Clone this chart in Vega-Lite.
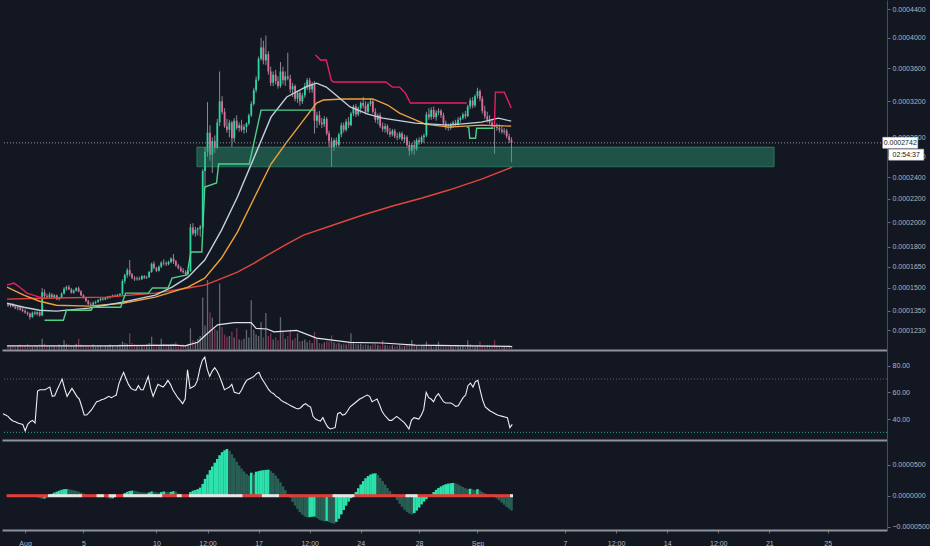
{
"$schema":"https://vega.github.io/schema/vega-lite/v6.json",
"background":"#131722",
"padding":0,
"spacing":0,
"config":{"view":{"stroke":null},"font":"Liberation Sans","axis":{"labelFont":"Liberation Sans","labelFontSize":7,"labelColor":"#b2b5be","tickColor":"#6a6d78","grid":false,"labelOverlap":false}},
"resolve":{"scale":{"color":"independent","strokeWidth":"independent","x":"independent","y":"independent"}},
"datasets":{
"bars":[
{"t":-1.17,"o":1390,"h":1400,"l":1375,"c":1382,"v":6,"r":44,"m":8,"g":"b","s":0},
{"t":-1,"o":1382,"h":1395,"l":1370,"c":1388,"v":5,"r":43,"m":6,"g":"b","s":0},
{"t":-0.83,"o":1388,"h":1398,"l":1372,"c":1376,"v":7,"r":42,"m":3,"g":"b","s":0},
{"t":-0.67,"o":1376,"h":1385,"l":1360,"c":1365,"v":5,"r":40,"m":-2,"g":"b","s":0},
{"t":-0.5,"o":1365,"h":1378,"l":1352,"c":1370,"v":6,"r":38.5,"m":-5,"g":"b","s":0},
{"t":-0.33,"o":1370,"h":1380,"l":1350,"c":1356,"v":8,"r":38,"m":-8,"g":"b","s":0},
{"t":-0.17,"o":1356,"h":1368,"l":1340,"c":1348,"v":6,"r":37,"m":-10,"g":"b","s":0},
{"t":0,"o":1348,"h":1360,"l":1330,"c":1338,"v":7,"r":36.5,"m":-12,"g":"b","s":0},
{"t":0.17,"o":1338,"h":1345,"l":1318,"c":1330,"v":9,"r":36,"m":-16,"g":"b","s":0},
{"t":0.33,"o":1330,"h":1338,"l":1295,"c":1310,"v":6,"r":31,"m":-20,"g":"b","s":0},
{"t":0.5,"o":1310,"h":1345,"l":1305,"c":1338,"v":5,"r":36,"m":-18,"g":"a","s":0},
{"t":0.67,"o":1338,"h":1348,"l":1322,"c":1330,"v":7,"r":38,"m":-20,"g":"b","s":0},
{"t":0.83,"o":1330,"h":1345,"l":1318,"c":1340,"v":6,"r":39,"m":-25,"g":"b","s":0},
{"t":1,"o":1340,"h":1345,"l":1312,"c":1320,"v":8,"r":37,"m":-38,"g":"b","s":0},
{"t":1.17,"o":1320,"h":1500,"l":1315,"c":1470,"v":16,"r":61,"m":-50,"g":"b","s":0},
{"t":1.33,"o":1470,"h":1490,"l":1430,"c":1445,"v":9,"r":62,"m":-45,"g":"a","s":0},
{"t":1.5,"o":1445,"h":1460,"l":1425,"c":1440,"v":7,"r":62,"m":-25,"g":"a","s":0},
{"t":1.67,"o":1440,"h":1470,"l":1430,"c":1455,"v":6,"r":62,"m":10,"g":"a","s":1},
{"t":1.83,"o":1455,"h":1465,"l":1430,"c":1438,"v":7,"r":63,"m":30,"g":"a","s":1},
{"t":2,"o":1438,"h":1458,"l":1430,"c":1450,"v":6,"r":64,"m":50,"g":"a","s":1},
{"t":2.17,"o":1450,"h":1455,"l":1418,"c":1425,"v":5,"r":57,"m":65,"g":"a","s":1},
{"t":2.33,"o":1425,"h":1440,"l":1415,"c":1432,"v":8,"r":57.5,"m":80,"g":"a","s":1},
{"t":2.5,"o":1432,"h":1470,"l":1428,"c":1462,"v":7,"r":62,"m":95,"g":"a","s":1},
{"t":2.67,"o":1462,"h":1505,"l":1455,"c":1495,"v":14,"r":66,"m":105,"g":"a","s":1},
{"t":2.83,"o":1495,"h":1515,"l":1480,"c":1505,"v":9,"r":70,"m":108,"g":"a","s":1},
{"t":3,"o":1505,"h":1520,"l":1485,"c":1490,"v":8,"r":63,"m":104,"g":"b","s":1},
{"t":3.17,"o":1490,"h":1500,"l":1462,"c":1468,"v":7,"r":57,"m":96,"g":"b","s":1},
{"t":3.33,"o":1468,"h":1490,"l":1460,"c":1482,"v":6,"r":60,"m":88,"g":"b","s":1},
{"t":3.5,"o":1482,"h":1505,"l":1475,"c":1498,"v":9,"r":63,"m":78,"g":"b","s":1},
{"t":3.67,"o":1498,"h":1510,"l":1470,"c":1475,"v":16,"r":60,"m":65,"g":"b","s":1},
{"t":3.83,"o":1475,"h":1485,"l":1445,"c":1450,"v":8,"r":57,"m":50,"g":"b","s":1},
{"t":4,"o":1450,"h":1458,"l":1428,"c":1432,"v":7,"r":55,"m":35,"g":"b","s":0},
{"t":4.17,"o":1432,"h":1440,"l":1405,"c":1412,"v":6,"r":49,"m":22,"g":"b","s":0},
{"t":4.33,"o":1412,"h":1420,"l":1385,"c":1392,"v":5,"r":43,"m":12,"g":"b","s":0},
{"t":4.5,"o":1392,"h":1405,"l":1378,"c":1388,"v":6,"r":43,"m":6,"g":"b","s":0},
{"t":4.67,"o":1388,"h":1410,"l":1382,"c":1400,"v":8,"r":45,"m":2,"g":"b","s":0},
{"t":4.83,"o":1400,"h":1415,"l":1392,"c":1406,"v":5,"r":47,"m":-3,"g":"b","s":0},
{"t":5,"o":1406,"h":1425,"l":1400,"c":1418,"v":6,"r":50,"m":8,"g":"a","s":1},
{"t":5.17,"o":1418,"h":1432,"l":1410,"c":1428,"v":7,"r":53,"m":12,"g":"a","s":1},
{"t":5.33,"o":1428,"h":1436,"l":1415,"c":1422,"v":5,"r":53.5,"m":6,"g":"b","s":1},
{"t":5.5,"o":1422,"h":1440,"l":1418,"c":1432,"v":6,"r":54.5,"m":-10,"g":"b","s":0},
{"t":5.67,"o":1432,"h":1445,"l":1424,"c":1438,"v":7,"r":55,"m":-38,"g":"b","s":0},
{"t":5.83,"o":1438,"h":1448,"l":1428,"c":1442,"v":8,"r":56,"m":-50,"g":"b","s":1},
{"t":6,"o":1442,"h":1455,"l":1436,"c":1448,"v":6,"r":57,"m":-42,"g":"a","s":1},
{"t":6.17,"o":1448,"h":1456,"l":1438,"c":1444,"v":5,"r":56,"m":-15,"g":"a","s":1},
{"t":6.33,"o":1444,"h":1460,"l":1440,"c":1452,"v":7,"r":57,"m":5,"g":"a","s":0},
{"t":6.5,"o":1452,"h":1465,"l":1445,"c":1458,"v":8,"r":58,"m":10,"g":"a","s":0},
{"t":6.67,"o":1458,"h":1560,"l":1452,"c":1548,"v":12,"r":66,"m":22,"g":"a","s":0},
{"t":6.83,"o":1548,"h":1600,"l":1530,"c":1590,"v":10,"r":71,"m":42,"g":"a","s":1},
{"t":7,"o":1590,"h":1640,"l":1570,"c":1625,"v":9,"r":75,"m":62,"g":"a","s":1},
{"t":7.17,"o":1625,"h":1700,"l":1580,"c":1595,"v":24,"r":70,"m":76,"g":"a","s":1},
{"t":7.33,"o":1595,"h":1605,"l":1560,"c":1570,"v":10,"r":66,"m":82,"g":"a","s":1},
{"t":7.5,"o":1570,"h":1582,"l":1548,"c":1560,"v":8,"r":63,"m":78,"g":"b","s":1},
{"t":7.67,"o":1560,"h":1580,"l":1550,"c":1565,"v":7,"r":62,"m":70,"g":"b","s":1},
{"t":7.83,"o":1565,"h":1578,"l":1552,"c":1560,"v":6,"r":61.5,"m":60,"g":"b","s":1},
{"t":8,"o":1560,"h":1590,"l":1555,"c":1582,"v":7,"r":65,"m":55,"g":"b","s":1},
{"t":8.17,"o":1582,"h":1590,"l":1562,"c":1570,"v":6,"r":62,"m":50,"g":"b","s":1},
{"t":8.33,"o":1570,"h":1585,"l":1562,"c":1575,"v":8,"r":62,"m":48,"g":"b","s":1},
{"t":8.5,"o":1575,"h":1620,"l":1570,"c":1612,"v":10,"r":67,"m":52,"g":"a","s":1},
{"t":8.67,"o":1612,"h":1680,"l":1605,"c":1672,"v":19,"r":72,"m":68,"g":"a","s":1},
{"t":8.83,"o":1672,"h":1690,"l":1630,"c":1640,"v":9,"r":63,"m":64,"g":"b","s":1},
{"t":9,"o":1640,"h":1650,"l":1610,"c":1620,"v":8,"r":57,"m":55,"g":"b","s":1},
{"t":9.17,"o":1620,"h":1660,"l":1615,"c":1650,"v":7,"r":62,"m":50,"g":"b","s":1},
{"t":9.33,"o":1650,"h":1690,"l":1640,"c":1680,"v":16,"r":66,"m":58,"g":"a","s":1},
{"t":9.5,"o":1680,"h":1705,"l":1660,"c":1675,"v":9,"r":65,"m":68,"g":"a","s":0},
{"t":9.67,"o":1675,"h":1690,"l":1655,"c":1668,"v":8,"r":64,"m":62,"g":"b","s":0},
{"t":9.83,"o":1668,"h":1695,"l":1660,"c":1685,"v":7,"r":66,"m":56,"g":"b","s":0},
{"t":10,"o":1685,"h":1720,"l":1675,"c":1710,"v":8,"r":69,"m":62,"g":"a","s":0},
{"t":10.17,"o":1710,"h":1745,"l":1670,"c":1690,"v":9,"r":66,"m":72,"g":"a","s":0},
{"t":10.33,"o":1690,"h":1700,"l":1650,"c":1660,"v":11,"r":62,"m":66,"g":"b","s":0},
{"t":10.5,"o":1660,"h":1672,"l":1630,"c":1640,"v":7,"r":59,"m":35,"g":"b","s":1},
{"t":10.67,"o":1640,"h":1655,"l":1610,"c":1620,"v":6,"r":56,"m":15,"g":"b","s":1},
{"t":10.83,"o":1620,"h":1640,"l":1600,"c":1610,"v":8,"r":54,"m":5,"g":"b","s":0},
{"t":11,"o":1610,"h":1625,"l":1590,"c":1598,"v":7,"r":51.5,"m":0,"g":"b","s":0},
{"t":11.17,"o":1598,"h":1625,"l":1592,"c":1618,"v":9,"r":55,"m":8,"g":"a","s":0},
{"t":11.33,"o":1618,"h":1985,"l":1612,"c":1955,"v":31,"r":77,"m":60,"g":"a","s":1},
{"t":11.5,"o":1955,"h":1990,"l":1890,"c":1905,"v":14,"r":63,"m":80,"g":"a","s":1},
{"t":11.67,"o":1905,"h":1960,"l":1880,"c":1935,"v":12,"r":64,"m":92,"g":"a","s":1},
{"t":11.83,"o":1935,"h":1955,"l":1890,"c":1945,"v":16,"r":65,"m":105,"g":"a","s":1},
{"t":12,"o":1945,"h":1975,"l":1880,"c":1960,"v":20,"r":69,"m":130,"g":"a","s":1},
{"t":12.17,"o":1960,"h":2480,"l":1950,"c":2460,"v":75,"r":78,"m":190,"g":"a","s":1},
{"t":12.33,"o":2460,"h":2700,"l":2300,"c":2650,"v":35,"r":84,"m":270,"g":"a","s":1},
{"t":12.5,"o":2650,"h":3190,"l":2600,"c":2850,"v":100,"r":86.5,"m":340,"g":"a","s":1},
{"t":12.67,"o":2850,"h":2930,"l":2560,"c":2620,"v":54,"r":77,"m":410,"g":"a","s":1},
{"t":12.83,"o":2620,"h":2800,"l":2440,"c":2760,"v":46,"r":72,"m":470,"g":"a","s":1},
{"t":13,"o":2760,"h":2820,"l":2640,"c":2690,"v":30,"r":76,"m":530,"g":"a","s":1},
{"t":13.17,"o":2690,"h":3000,"l":2680,"c":2960,"v":28,"r":78.5,"m":590,"g":"a","s":1},
{"t":13.33,"o":2960,"h":3560,"l":2920,"c":3200,"v":95,"r":76,"m":650,"g":"a","s":1},
{"t":13.5,"o":3200,"h":3260,"l":3050,"c":3080,"v":33,"r":72,"m":700,"g":"a","s":1},
{"t":13.67,"o":3080,"h":3120,"l":2900,"c":2920,"v":22,"r":67,"m":730,"g":"a","s":1},
{"t":13.83,"o":2920,"h":3000,"l":2850,"c":2880,"v":19,"r":62,"m":750,"g":"a","s":1},
{"t":14,"o":2880,"h":2990,"l":2800,"c":2960,"v":20,"r":63,"m":720,"g":"b","s":1},
{"t":14.17,"o":2960,"h":2980,"l":2700,"c":2790,"v":26,"r":64,"m":665,"g":"b","s":1},
{"t":14.33,"o":2790,"h":3010,"l":2750,"c":2980,"v":18,"r":66,"m":605,"g":"b","s":1},
{"t":14.5,"o":2980,"h":3040,"l":2880,"c":2900,"v":31,"r":60,"m":545,"g":"b","s":1},
{"t":14.67,"o":2900,"h":2960,"l":2860,"c":2930,"v":15,"r":59.5,"m":485,"g":"b","s":1},
{"t":14.83,"o":2930,"h":2990,"l":2860,"c":2880,"v":14,"r":59,"m":435,"g":"b","s":1},
{"t":15,"o":2880,"h":2940,"l":2840,"c":2910,"v":16,"r":62,"m":390,"g":"b","s":0},
{"t":15.17,"o":2910,"h":2960,"l":2850,"c":2950,"v":29,"r":66,"m":350,"g":"b","s":0},
{"t":15.33,"o":2950,"h":3060,"l":2930,"c":3040,"v":18,"r":69,"m":322,"g":"b","s":0},
{"t":15.5,"o":3040,"h":3200,"l":3020,"c":3170,"v":71,"r":70,"m":370,"g":"a","s":0},
{"t":15.67,"o":3170,"h":3360,"l":3150,"c":3330,"v":29,"r":71,"m":340,"g":"b","s":0},
{"t":15.83,"o":3330,"h":3500,"l":3300,"c":3460,"v":22,"r":72,"m":385,"g":"a","s":0},
{"t":16,"o":3460,"h":3750,"l":3440,"c":3720,"v":20,"r":74,"m":395,"g":"a","s":0},
{"t":16.17,"o":3720,"h":4000,"l":3700,"c":3870,"v":40,"r":75,"m":405,"g":"a","s":0},
{"t":16.33,"o":3870,"h":3960,"l":3650,"c":3700,"v":18,"r":71,"m":410,"g":"a","s":1},
{"t":16.5,"o":3700,"h":4030,"l":3640,"c":3780,"v":53,"r":68,"m":415,"g":"a","s":1},
{"t":16.67,"o":3780,"h":3820,"l":3520,"c":3560,"v":20,"r":65,"m":418,"g":"a","s":1},
{"t":16.83,"o":3560,"h":3620,"l":3380,"c":3420,"v":24,"r":62,"m":395,"g":"b","s":1},
{"t":17,"o":3420,"h":3560,"l":3380,"c":3520,"v":15,"r":60,"m":365,"g":"b","s":1},
{"t":17.17,"o":3520,"h":3580,"l":3400,"c":3440,"v":18,"r":59,"m":325,"g":"b","s":1},
{"t":17.33,"o":3440,"h":3500,"l":3350,"c":3380,"v":14,"r":57,"m":275,"g":"b","s":1},
{"t":17.5,"o":3380,"h":3680,"l":3360,"c":3560,"v":47,"r":56,"m":215,"g":"b","s":0},
{"t":17.67,"o":3560,"h":3620,"l":3400,"c":3450,"v":27,"r":54,"m":150,"g":"b","s":0},
{"t":17.83,"o":3450,"h":3560,"l":3380,"c":3500,"v":16,"r":53,"m":90,"g":"b","s":0},
{"t":18,"o":3500,"h":3800,"l":3450,"c":3470,"v":20,"r":52,"m":30,"g":"b","s":0},
{"t":18.17,"o":3470,"h":3520,"l":3300,"c":3340,"v":29,"r":51,"m":-35,"g":"b","s":0},
{"t":18.33,"o":3340,"h":3420,"l":3250,"c":3380,"v":14,"r":50,"m":-100,"g":"b","s":0},
{"t":18.5,"o":3380,"h":3400,"l":3200,"c":3230,"v":17,"r":49,"m":-160,"g":"b","s":0},
{"t":18.67,"o":3230,"h":3330,"l":3180,"c":3300,"v":24,"r":48,"m":-215,"g":"b","s":0},
{"t":18.83,"o":3300,"h":3320,"l":3150,"c":3200,"v":12,"r":47.5,"m":-265,"g":"b","s":0},
{"t":19,"o":3200,"h":3300,"l":3170,"c":3270,"v":13,"r":48.5,"m":-305,"g":"b","s":0},
{"t":19.17,"o":3270,"h":3420,"l":3240,"c":3380,"v":15,"r":50.5,"m":-335,"g":"b","s":0},
{"t":19.33,"o":3380,"h":3480,"l":3330,"c":3450,"v":11,"r":51.5,"m":-350,"g":"b","s":0},
{"t":19.5,"o":3450,"h":3480,"l":3300,"c":3340,"v":14,"r":50,"m":-345,"g":"a","s":0},
{"t":19.67,"o":3340,"h":3430,"l":3300,"c":3400,"v":10,"r":49,"m":-338,"g":"a","s":0},
{"t":19.83,"o":3400,"h":3440,"l":2840,"c":2980,"v":26,"r":42,"m":-335,"g":"a","s":0},
{"t":20,"o":2980,"h":3080,"l":2900,"c":3040,"v":16,"r":40,"m":-360,"g":"b","s":0},
{"t":20.17,"o":3040,"h":3090,"l":2930,"c":2960,"v":10,"r":39,"m":-385,"g":"b","s":0},
{"t":20.33,"o":2960,"h":3010,"l":2900,"c":2940,"v":9,"r":38.5,"m":-400,"g":"b","s":0},
{"t":20.5,"o":2940,"h":3030,"l":2910,"c":3000,"v":11,"r":41,"m":-412,"g":"b","s":0},
{"t":20.67,"o":3000,"h":3020,"l":2820,"c":2840,"v":13,"r":37,"m":-405,"g":"a","s":0},
{"t":20.83,"o":2840,"h":2870,"l":2700,"c":2760,"v":12,"r":34,"m":-425,"g":"b","s":0},
{"t":21,"o":2760,"h":2800,"l":2500,"c":2700,"v":21,"r":32.5,"m":-440,"g":"b","s":0},
{"t":21.17,"o":2700,"h":2790,"l":2660,"c":2770,"v":11,"r":33,"m":-450,"g":"b","s":1},
{"t":21.33,"o":2770,"h":2800,"l":2700,"c":2720,"v":9,"r":33.5,"m":-420,"g":"a","s":1},
{"t":21.5,"o":2720,"h":2850,"l":2700,"c":2830,"v":10,"r":44,"m":-370,"g":"a","s":1},
{"t":21.67,"o":2830,"h":2960,"l":2800,"c":2930,"v":8,"r":45,"m":-300,"g":"a","s":1},
{"t":21.83,"o":2930,"h":2960,"l":2850,"c":2880,"v":9,"r":43,"m":-230,"g":"a","s":1},
{"t":22,"o":2880,"h":3000,"l":2860,"c":2970,"v":8,"r":43.5,"m":-160,"g":"a","s":1},
{"t":22.17,"o":2970,"h":3020,"l":2900,"c":2930,"v":10,"r":46,"m":-95,"g":"a","s":1},
{"t":22.33,"o":2930,"h":3080,"l":2920,"c":3060,"v":24,"r":49,"m":-40,"g":"a","s":1},
{"t":22.5,"o":3060,"h":3160,"l":3030,"c":3140,"v":12,"r":50.5,"m":10,"g":"a","s":1},
{"t":22.67,"o":3140,"h":3170,"l":3020,"c":3050,"v":9,"r":52,"m":60,"g":"a","s":0},
{"t":22.83,"o":3050,"h":3140,"l":3030,"c":3120,"v":8,"r":53.5,"m":120,"g":"a","s":0},
{"t":23,"o":3120,"h":3200,"l":3060,"c":3180,"v":9,"r":55,"m":180,"g":"a","s":0},
{"t":23.17,"o":3180,"h":3250,"l":3120,"c":3150,"v":7,"r":56,"m":235,"g":"a","s":0},
{"t":23.33,"o":3150,"h":3200,"l":3050,"c":3080,"v":8,"r":57,"m":280,"g":"a","s":0},
{"t":23.5,"o":3080,"h":3190,"l":3060,"c":3170,"v":7,"r":58,"m":315,"g":"a","s":0},
{"t":23.67,"o":3170,"h":3230,"l":3140,"c":3200,"v":6,"r":57,"m":340,"g":"a","s":0},
{"t":23.83,"o":3200,"h":3220,"l":3060,"c":3080,"v":8,"r":53,"m":355,"g":"a","s":0},
{"t":24,"o":3080,"h":3120,"l":2960,"c":2990,"v":9,"r":54,"m":360,"g":"a","s":0},
{"t":24.17,"o":2990,"h":3060,"l":2940,"c":3040,"v":7,"r":55,"m":330,"g":"b","s":0},
{"t":24.33,"o":3040,"h":3070,"l":2900,"c":2920,"v":6,"r":51,"m":285,"g":"b","s":0},
{"t":24.5,"o":2920,"h":2960,"l":2860,"c":2890,"v":14,"r":46,"m":235,"g":"b","s":0},
{"t":24.67,"o":2890,"h":2950,"l":2850,"c":2920,"v":7,"r":43,"m":180,"g":"b","s":0},
{"t":24.83,"o":2920,"h":2940,"l":2830,"c":2860,"v":6,"r":41,"m":125,"g":"b","s":0},
{"t":25,"o":2860,"h":2900,"l":2800,"c":2830,"v":6,"r":39,"m":75,"g":"b","s":0},
{"t":25.17,"o":2830,"h":2890,"l":2810,"c":2870,"v":7,"r":39,"m":30,"g":"b","s":0},
{"t":25.33,"o":2870,"h":2890,"l":2790,"c":2810,"v":5,"r":40.5,"m":-15,"g":"b","s":0},
{"t":25.5,"o":2810,"h":2850,"l":2770,"c":2800,"v":6,"r":42,"m":-70,"g":"b","s":0},
{"t":25.67,"o":2800,"h":2860,"l":2780,"c":2840,"v":7,"r":40.5,"m":-130,"g":"b","s":0},
{"t":25.83,"o":2840,"h":2860,"l":2760,"c":2780,"v":6,"r":39,"m":-180,"g":"b","s":0},
{"t":26,"o":2780,"h":2830,"l":2740,"c":2800,"v":6,"r":37.5,"m":-225,"g":"b","s":0},
{"t":26.17,"o":2800,"h":2820,"l":2700,"c":2720,"v":7,"r":35,"m":-260,"g":"b","s":1},
{"t":26.33,"o":2720,"h":2760,"l":2610,"c":2660,"v":9,"r":32.5,"m":-285,"g":"b","s":1},
{"t":26.5,"o":2660,"h":2740,"l":2630,"c":2720,"v":14,"r":39,"m":-300,"g":"b","s":1},
{"t":26.67,"o":2720,"h":2770,"l":2620,"c":2680,"v":7,"r":41,"m":-280,"g":"a","s":1},
{"t":26.83,"o":2680,"h":2790,"l":2660,"c":2770,"v":6,"r":40.5,"m":-240,"g":"a","s":1},
{"t":27,"o":2770,"h":2800,"l":2720,"c":2750,"v":5,"r":40,"m":-190,"g":"a","s":0},
{"t":27.17,"o":2750,"h":2820,"l":2730,"c":2800,"v":6,"r":43,"m":-140,"g":"a","s":0},
{"t":27.33,"o":2800,"h":2840,"l":2740,"c":2820,"v":7,"r":47,"m":-95,"g":"a","s":0},
{"t":27.5,"o":2820,"h":3080,"l":2800,"c":3050,"v":12,"r":60,"m":-55,"g":"a","s":0},
{"t":27.67,"o":3050,"h":3120,"l":2990,"c":3020,"v":8,"r":56,"m":-20,"g":"a","s":0},
{"t":27.83,"o":3020,"h":3130,"l":2990,"c":3100,"v":6,"r":55,"m":20,"g":"a","s":0},
{"t":28,"o":3100,"h":3140,"l":3000,"c":3020,"v":5,"r":53,"m":60,"g":"a","s":0},
{"t":28.17,"o":3020,"h":3100,"l":2980,"c":3070,"v":6,"r":57,"m":95,"g":"a","s":0},
{"t":28.33,"o":3070,"h":3120,"l":3040,"c":3090,"v":12,"r":59,"m":125,"g":"a","s":0},
{"t":28.5,"o":3090,"h":3110,"l":3010,"c":3040,"v":7,"r":56,"m":150,"g":"a","s":0},
{"t":28.67,"o":3040,"h":3070,"l":2930,"c":2950,"v":6,"r":53,"m":170,"g":"a","s":0},
{"t":28.83,"o":2950,"h":2980,"l":2880,"c":2910,"v":5,"r":52,"m":185,"g":"a","s":0},
{"t":29,"o":2910,"h":2950,"l":2870,"c":2900,"v":5,"r":52,"m":195,"g":"a","s":0},
{"t":29.17,"o":2900,"h":2960,"l":2880,"c":2940,"v":6,"r":52,"m":200,"g":"a","s":0},
{"t":29.33,"o":2940,"h":2980,"l":2900,"c":2960,"v":5,"r":51,"m":205,"g":"a","s":0},
{"t":29.5,"o":2960,"h":2990,"l":2920,"c":2940,"v":6,"r":49.5,"m":198,"g":"b","s":0},
{"t":29.67,"o":2940,"h":3020,"l":2920,"c":2990,"v":7,"r":50,"m":180,"g":"b","s":0},
{"t":29.83,"o":2990,"h":3030,"l":2960,"c":3010,"v":5,"r":53,"m":160,"g":"b","s":0},
{"t":30,"o":3010,"h":3070,"l":2990,"c":3050,"v":6,"r":56,"m":140,"g":"b","s":0},
{"t":30.17,"o":3050,"h":3090,"l":3000,"c":3030,"v":5,"r":58,"m":120,"g":"b","s":0},
{"t":30.33,"o":3030,"h":3160,"l":3020,"c":3140,"v":14,"r":65,"m":108,"g":"b","s":0},
{"t":30.5,"o":3140,"h":3240,"l":3110,"c":3210,"v":8,"r":67,"m":112,"g":"a","s":0},
{"t":30.67,"o":3210,"h":3250,"l":3120,"c":3150,"v":6,"r":64,"m":100,"g":"b","s":0},
{"t":30.83,"o":3150,"h":3280,"l":3130,"c":3260,"v":5,"r":68,"m":90,"g":"b","s":0},
{"t":31,"o":3260,"h":3360,"l":3230,"c":3320,"v":7,"r":69,"m":105,"g":"a","s":0},
{"t":31.17,"o":3320,"h":3340,"l":3200,"c":3230,"v":12,"r":61,"m":85,"g":"b","s":0},
{"t":31.33,"o":3230,"h":3260,"l":3060,"c":3090,"v":6,"r":54,"m":60,"g":"b","s":0},
{"t":31.5,"o":3090,"h":3150,"l":3000,"c":3030,"v":5,"r":49,"m":40,"g":"b","s":0},
{"t":31.67,"o":3030,"h":3080,"l":2960,"c":2990,"v":7,"r":47.5,"m":25,"g":"b","s":0},
{"t":31.83,"o":2990,"h":3040,"l":2940,"c":2960,"v":6,"r":46,"m":12,"g":"b","s":0},
{"t":32,"o":2960,"h":3000,"l":2900,"c":2930,"v":5,"r":45,"m":0,"g":"b","s":0},
{"t":32.17,"o":2930,"h":2970,"l":2630,"c":2910,"v":14,"r":44,"m":-20,"g":"b","s":0},
{"t":32.33,"o":2910,"h":2950,"l":2870,"c":2900,"v":6,"r":43,"m":-45,"g":"b","s":0},
{"t":32.5,"o":2900,"h":2940,"l":2850,"c":2880,"v":5,"r":42.5,"m":-75,"g":"b","s":0},
{"t":32.67,"o":2880,"h":2920,"l":2840,"c":2860,"v":4,"r":42,"m":-110,"g":"b","s":0},
{"t":32.83,"o":2860,"h":2900,"l":2830,"c":2870,"v":5,"r":41.5,"m":-145,"g":"b","s":0},
{"t":33,"o":2870,"h":2890,"l":2790,"c":2810,"v":6,"r":41,"m":-180,"g":"b","s":0},
{"t":33.17,"o":2810,"h":2840,"l":2740,"c":2770,"v":7,"r":33.5,"m":-210,"g":"b","s":0},
{"t":33.33,"o":2770,"h":2800,"l":2545,"c":2742,"v":5,"r":36,"m":-240,"g":"b","s":1}
],
"lines":[
{"k":"ma200","t":-1.24,"p":1425},{"k":"ma200","t":0.99,"p":1431},{"k":"ma200","t":5.54,"p":1438},{"k":"ma200","t":8.92,"p":1465},{"k":"ma200","t":11.16,"p":1499},{"k":"ma200","t":12.31,"p":1519},{"k":"ma200","t":13.19,"p":1554},{"k":"ma200","t":14.55,"p":1611},{"k":"ma200","t":15.7,"p":1677},{"k":"ma200","t":16.85,"p":1752},{"k":"ma200","t":17.93,"p":1821},{"k":"ma200","t":19.08,"p":1893},{"k":"ma200","t":21.12,"p":1975},{"k":"ma200","t":23.15,"p":2059},{"k":"ma200","t":25.18,"p":2137},{"k":"ma200","t":27.21,"p":2208},{"k":"ma200","t":29.04,"p":2280},{"k":"ma200","t":31.28,"p":2382},{"k":"ma200","t":33.38,"p":2497},
{"k":"ma50","t":-1.24,"p":1505},{"k":"ma50","t":-0.09,"p":1451},{"k":"ma50","t":0.99,"p":1411},{"k":"ma50","t":2.15,"p":1385},{"k":"ma50","t":4.38,"p":1379},{"k":"ma50","t":6.69,"p":1398},{"k":"ma50","t":8.92,"p":1438},{"k":"ma50","t":11.16,"p":1505},{"k":"ma50","t":12.31,"p":1568},{"k":"ma50","t":13.46,"p":1714},{"k":"ma50","t":14.55,"p":1917},{"k":"ma50","t":15.7,"p":2208},{"k":"ma50","t":16.85,"p":2527},{"k":"ma50","t":17.93,"p":2750},{"k":"ma50","t":19.08,"p":2986},{"k":"ma50","t":19.97,"p":3180},{"k":"ma50","t":20.44,"p":3215},{"k":"ma50","t":21.79,"p":3227},{"k":"ma50","t":23.83,"p":3227},{"k":"ma50","t":24.84,"p":3157},{"k":"ma50","t":25.66,"p":3065},{"k":"ma50","t":27.42,"p":2942},{"k":"ma50","t":29.04,"p":2909},{"k":"ma50","t":31.28,"p":2931},{"k":"ma50","t":33.31,"p":2920},
{"k":"ma20","t":-1.24,"p":1398},{"k":"ma20","t":-0.09,"p":1372},{"k":"ma20","t":0.99,"p":1353},{"k":"ma20","t":2.15,"p":1347},{"k":"ma20","t":4.38,"p":1366},{"k":"ma20","t":6.69,"p":1405},{"k":"ma20","t":8.92,"p":1451},{"k":"ma20","t":10.07,"p":1505},{"k":"ma20","t":11.16,"p":1575},{"k":"ma20","t":12.31,"p":1699},{"k":"ma20","t":13.46,"p":1933},{"k":"ma20","t":14.55,"p":2217},{"k":"ma20","t":15.7,"p":2596},{"k":"ma20","t":16.85,"p":3019},{"k":"ma20","t":17.93,"p":3250},{"k":"ma20","t":19.08,"p":3356},{"k":"ma20","t":19.56,"p":3392},{"k":"ma20","t":19.97,"p":3416},{"k":"ma20","t":20.64,"p":3368},{"k":"ma20","t":21.46,"p":3250},{"k":"ma20","t":22.27,"p":3134},{"k":"ma20","t":23.49,"p":3054},{"k":"ma20","t":24.5,"p":3008},{"k":"ma20","t":26.74,"p":2953},{"k":"ma20","t":29.04,"p":2931},{"k":"ma20","t":31.28,"p":2964},{"k":"ma20","t":32.43,"p":3008},{"k":"ma20","t":33.31,"p":2975},
{"k":"st1","t":1.33,"p":1290},{"k":"st1","t":2.62,"p":1290},{"k":"st1","t":2.83,"p":1353},{"k":"st1","t":4.52,"p":1353},{"k":"st1","t":4.65,"p":1372},{"k":"st1","t":6.55,"p":1372},{"k":"st1","t":6.89,"p":1465},{"k":"st1","t":8.45,"p":1465},{"k":"st1","t":8.72,"p":1499},{"k":"st1","t":9.8,"p":1499},{"k":"st1","t":10.07,"p":1568},{"k":"st1","t":11.09,"p":1590},{"k":"st1","t":11.36,"p":1760},{"k":"st1","t":12.11,"p":1760},{"k":"st1","t":12.31,"p":2307},{"k":"st1","t":13.12,"p":2345},{"k":"st1","t":13.26,"p":2527},{"k":"st1","t":15.36,"p":2527},{"k":"st1","t":16.17,"p":3099},{"k":"st1","t":19.9,"p":3099},
{"k":"st2","t":30.26,"p":2909},{"k":"st2","t":30.4,"p":2909},{"k":"st2","t":30.47,"p":2791},{"k":"st2","t":30.87,"p":2791},{"k":"st2","t":30.94,"p":2898},{"k":"st2","t":32.09,"p":2898},
{"k":"dn1","t":-1.24,"p":1519},{"k":"dn1","t":-0.77,"p":1533},{"k":"dn1","t":-0.36,"p":1505},{"k":"dn1","t":0.12,"p":1465},{"k":"dn1","t":0.99,"p":1438},{"k":"dn1","t":1.2,"p":1438},
{"k":"dn2","t":19.9,"p":3769},{"k":"dn2","t":20.24,"p":3705},{"k":"dn2","t":20.64,"p":3705},{"k":"dn2","t":20.98,"p":3453},{"k":"dn2","t":21.12,"p":3429},{"k":"dn2","t":24.71,"p":3429},{"k":"dn2","t":25.18,"p":3368},{"k":"dn2","t":25.66,"p":3368},{"k":"dn2","t":26.06,"p":3296},{"k":"dn2","t":26.4,"p":3180},{"k":"dn2","t":30.26,"p":3180},
{"k":"dn3","t":32.16,"p":2931},{"k":"dn3","t":32.23,"p":3308},{"k":"dn3","t":32.84,"p":3308},{"k":"dn3","t":33.31,"p":3122}
],
"vm":[
{"t":-1.24,"v":6},{"t":5.54,"v":6},{"t":10.28,"v":7},{"t":10.96,"v":6},{"t":11.84,"v":11},{"t":12.51,"v":24},{"t":13.19,"v":36},{"t":14.34,"v":39},{"t":15.49,"v":39},{"t":15.83,"v":31},{"t":16.58,"v":30},{"t":17.05,"v":26},{"t":18.61,"v":28},{"t":19.97,"v":17},{"t":22.27,"v":11},{"t":24.5,"v":10},{"t":26.74,"v":7},{"t":33.38,"v":5}
],
"zone":[{"t":11.77,"t2":51.33,"p1":2500,"p2":2698}],
"lbl":[{"t":59.97,"p":2742,"txt":"0.0002742"},{"t":60.38,"p":2621,"txt":"02:54:37"}]
},
"vconcat":[
{
"width":885,"height":350,
"layer":[
{"layer":[
{"data":{"name":"bars"},"mark":{"type":"bar","size":1.3},
"encoding":{
"x":{"field":"t","type":"quantitative","scale":{"domain":[-1.24,58.72],"nice":false,"zero":false},"title":null,"axis":{"orient":"bottom","labels":false,"ticks":false,"domainColor":"#8f929b","domainWidth":2}},
"y":{"field":"v","type":"quantitative","scale":{"domain":[0,500],"nice":false},"axis":null},
"color":{"condition":{"test":"datum.c>=datum.o","value":"#70747e"},"value":"#8c3a5c"},
"opacity":{"value":0.85}}},
{"data":{"name":"vm"},"mark":{"type":"line","color":"#e0e3eb","strokeWidth":1.2},
"encoding":{
"x":{"field":"t","type":"quantitative","scale":{"domain":[-1.24,58.72],"nice":false,"zero":false},"title":null,"axis":{"orient":"bottom","labels":false,"ticks":false,"domainColor":"#8f929b","domainWidth":2}},
"y":{"field":"v","type":"quantitative","scale":{"domain":[0,500],"nice":false},"axis":null}}}
]},
{"layer":[
{"data":{"name":"bars"},"mark":{"type":"rule","strokeWidth":0.8,"color":"#a4a7b0"},
"encoding":{
"x":{"field":"t","type":"quantitative","scale":{"domain":[-1.24,58.72],"nice":false,"zero":false},"title":null,"axis":{"orient":"bottom","labels":false,"ticks":false,"domainColor":"#8f929b","domainWidth":2}},
"y":{"field":"l","type":"quantitative","scale":{"type":"pow","exponent":0.3,"domain":[1116,4536],"nice":false,"zero":false},"title":null,"axis":{"orient":"right","values":[1230,1350,1500,1650,1800,2000,2200,2400,2600,2800,3200,3600,4000,4400],"labelExpr":"format(datum.value/10000000,'.7f')","tickSize":3,"labelPadding":2,"domainColor":"#4a4d57"}},
"y2":{"field":"h"}}},
{"data":{"name":"bars"},"mark":{"type":"bar","size":1.8},
"encoding":{
"x":{"field":"t","type":"quantitative","scale":{"domain":[-1.24,58.72],"nice":false,"zero":false},"title":null,"axis":{"orient":"bottom","labels":false,"ticks":false,"domainColor":"#8f929b","domainWidth":2}},
"y":{"field":"o","type":"quantitative","scale":{"type":"pow","exponent":0.3,"domain":[1116,4536],"nice":false,"zero":false},"title":null,"axis":{"orient":"right","values":[1230,1350,1500,1650,1800,2000,2200,2400,2600,2800,3200,3600,4000,4400],"labelExpr":"format(datum.value/10000000,'.7f')","tickSize":3,"labelPadding":2,"domainColor":"#4a4d57"}},
"y2":{"field":"c"},
"color":{"condition":{"test":"datum.c>=datum.o","value":"#28d99f"},"value":"#e26b98"}}},
{"data":{"name":"zone"},"mark":{"type":"rect","fill":"#2e9e77","fillOpacity":0.45,"stroke":"#3fb68b","strokeOpacity":0.45,"strokeWidth":1},
"encoding":{
"x":{"field":"t","type":"quantitative","scale":{"domain":[-1.24,58.72],"nice":false,"zero":false},"title":null,"axis":{"orient":"bottom","labels":false,"ticks":false,"domainColor":"#8f929b","domainWidth":2}},
"x2":{"field":"t2"},
"y":{"field":"p1","type":"quantitative","scale":{"type":"pow","exponent":0.3,"domain":[1116,4536],"nice":false,"zero":false},"title":null,"axis":{"orient":"right","values":[1230,1350,1500,1650,1800,2000,2200,2400,2600,2800,3200,3600,4000,4400],"labelExpr":"format(datum.value/10000000,'.7f')","tickSize":3,"labelPadding":2,"domainColor":"#4a4d57"}},
"y2":{"field":"p2"}}},
{"data":{"name":"lines"},"mark":{"type":"line"},
"encoding":{
"x":{"field":"t","type":"quantitative","scale":{"domain":[-1.24,58.72],"nice":false,"zero":false},"title":null,"axis":{"orient":"bottom","labels":false,"ticks":false,"domainColor":"#8f929b","domainWidth":2}},
"y":{"field":"p","type":"quantitative","scale":{"type":"pow","exponent":0.3,"domain":[1116,4536],"nice":false,"zero":false},"title":null,"axis":{"orient":"right","values":[1230,1350,1500,1650,1800,2000,2200,2400,2600,2800,3200,3600,4000,4400],"labelExpr":"format(datum.value/10000000,'.7f')","tickSize":3,"labelPadding":2,"domainColor":"#4a4d57"}},
"color":{"field":"k","type":"nominal","scale":{"domain":["ma20","ma50","ma200","st1","st2","dn1","dn2","dn3"],"range":["#c3d0dd","#eda23c","#e3463a","#4fd08a","#4fd08a","#e91e63","#e91e63","#e91e63"]},"legend":null},
"strokeWidth":{"field":"k","type":"nominal","scale":{"domain":["ma20","ma50","ma200","st1","st2","dn1","dn2","dn3"],"range":[1.4,1.4,1.9,1.5,1.5,1.5,1.5,1.5]},"legend":null}}},
{"data":{"values":[{}]},"mark":{"type":"rule","strokeDash":[1,2],"color":"#9598a1","strokeWidth":1},
"encoding":{"y":{"datum":2742,"type":"quantitative","scale":{"type":"pow","exponent":0.3,"domain":[1116,4536],"nice":false,"zero":false},"title":null,"axis":{"orient":"right","values":[1230,1350,1500,1650,1800,2000,2200,2400,2600,2800,3200,3600,4000,4400],"labelExpr":"format(datum.value/10000000,'.7f')","tickSize":3,"labelPadding":2,"domainColor":"#4a4d57"}}}},
{"data":{"name":"lbl"},"mark":{"type":"point","shape":"M-1,-0.314L1,-0.314L1,0.314L-1,0.314Z","size":1225,"filled":true,"fill":"#ffffff","opacity":1,"clip":false,"stroke":"#c9ccd3","strokeWidth":0.5},
"encoding":{
"x":{"field":"t","type":"quantitative","scale":{"domain":[-1.24,58.72],"nice":false,"zero":false},"title":null,"axis":{"orient":"bottom","labels":false,"ticks":false,"domainColor":"#8f929b","domainWidth":2}},
"y":{"field":"p","type":"quantitative","scale":{"type":"pow","exponent":0.3,"domain":[1116,4536],"nice":false,"zero":false},"title":null,"axis":{"orient":"right","values":[1230,1350,1500,1650,1800,2000,2200,2400,2600,2800,3200,3600,4000,4400],"labelExpr":"format(datum.value/10000000,'.7f')","tickSize":3,"labelPadding":2,"domainColor":"#4a4d57"}}}},
{"data":{"name":"lbl"},"mark":{"type":"text","fontSize":7,"font":"Liberation Sans","color":"#131722","align":"center","baseline":"middle","clip":false},
"encoding":{
"x":{"field":"t","type":"quantitative","scale":{"domain":[-1.24,58.72],"nice":false,"zero":false},"title":null,"axis":{"orient":"bottom","labels":false,"ticks":false,"domainColor":"#8f929b","domainWidth":2}},
"y":{"field":"p","type":"quantitative","scale":{"type":"pow","exponent":0.3,"domain":[1116,4536],"nice":false,"zero":false},"title":null,"axis":{"orient":"right","values":[1230,1350,1500,1650,1800,2000,2200,2400,2600,2800,3200,3600,4000,4400],"labelExpr":"format(datum.value/10000000,'.7f')","tickSize":3,"labelPadding":2,"domainColor":"#4a4d57"}},
"text":{"field":"txt"}}}
]}
],
"resolve":{"scale":{"y":"independent"}}
},
{
"width":885,"height":90,
"layer":[
{"data":{"values":[{}]},"mark":{"type":"rule","strokeDash":[1,2],"color":"#6e5a63","strokeWidth":1},
"encoding":{"y":{"datum":70,"type":"quantitative","scale":{"domain":[24.25,91.8],"nice":false,"zero":false},"title":null,"axis":{"orient":"right","values":[40,60,80],"format":".2f","tickSize":3,"labelPadding":2,"domainColor":"#4a4d57"}}}},
{"data":{"values":[{}]},"mark":{"type":"rule","strokeDash":[1,2],"color":"#26a69a","strokeWidth":1},
"encoding":{"y":{"datum":30,"type":"quantitative","scale":{"domain":[24.25,91.8],"nice":false,"zero":false},"title":null,"axis":{"orient":"right","values":[40,60,80],"format":".2f","tickSize":3,"labelPadding":2,"domainColor":"#4a4d57"}}}},
{"data":{"name":"bars"},"mark":{"type":"line","color":"#eceff4","strokeWidth":1.1},
"encoding":{
"x":{"field":"t","type":"quantitative","scale":{"domain":[-1.24,58.72],"nice":false,"zero":false},"title":null,"axis":{"orient":"bottom","labels":false,"ticks":false,"domainColor":"#8f929b","domainWidth":2}},
"y":{"field":"r","type":"quantitative","scale":{"domain":[24.25,91.8],"nice":false,"zero":false},"title":null,"axis":{"orient":"right","values":[40,60,80],"format":".2f","tickSize":3,"labelPadding":2,"domainColor":"#4a4d57"}}}}
]
},
{
"width":885,"height":90,
"layer":[
{"data":{"name":"bars"},"mark":{"type":"bar","size":2.6},
"encoding":{
"x":{"field":"t","type":"quantitative","scale":{"domain":[-1.24,58.72],"nice":false,"zero":false},"title":null,"axis":{"orient":"bottom","values":[0,4,9,12.5,16,19.5,23,27,31,37,40.5,44,47.5,51,55],"labelExpr":"datum.value==0?'Aug':datum.value==4?'5':datum.value==9?'10':datum.value==16?'17':datum.value==23?'24':datum.value==27?'28':datum.value==31?'Sep':datum.value==37?'7':datum.value==44?'14':datum.value==51?'21':datum.value==55?'25':'12:00'","tickSize":3,"labelPadding":6,"domainColor":"#8f929b","domainWidth":2}},
"y":{"field":"m","type":"quantitative","scale":{"domain":[-551,895],"nice":false,"zero":false},"title":null,"axis":{"orient":"right","values":[-500,0,500],"labelExpr":"format(datum.value/10000000,'.7f')","tickSize":3,"labelPadding":2,"domainColor":"#4a4d57"}},
"y2":{"datum":0},
"color":{"field":"g","type":"nominal","scale":{"domain":["a","b"],"range":["#2de3ad","#285e53"]},"legend":null}}},
{"data":{"name":"bars"},"mark":{"type":"square","size":9,"opacity":1},
"encoding":{
"x":{"field":"t","type":"quantitative","scale":{"domain":[-1.24,58.72],"nice":false,"zero":false},"title":null,"axis":{"orient":"bottom","values":[0,4,9,12.5,16,19.5,23,27,31,37,40.5,44,47.5,51,55],"labelExpr":"datum.value==0?'Aug':datum.value==4?'5':datum.value==9?'10':datum.value==16?'17':datum.value==23?'24':datum.value==27?'28':datum.value==31?'Sep':datum.value==37?'7':datum.value==44?'14':datum.value==51?'21':datum.value==55?'25':'12:00'","tickSize":3,"labelPadding":6,"domainColor":"#8f929b","domainWidth":2}},
"y":{"datum":0,"type":"quantitative","scale":{"domain":[-551,895],"nice":false,"zero":false},"title":null,"axis":{"orient":"right","values":[-500,0,500],"labelExpr":"format(datum.value/10000000,'.7f')","tickSize":3,"labelPadding":2,"domainColor":"#4a4d57"}},
"color":{"condition":{"test":"datum.s==1","value":"#e6e6e6"},"value":"#e0403a"}}}
]
}
]
}
